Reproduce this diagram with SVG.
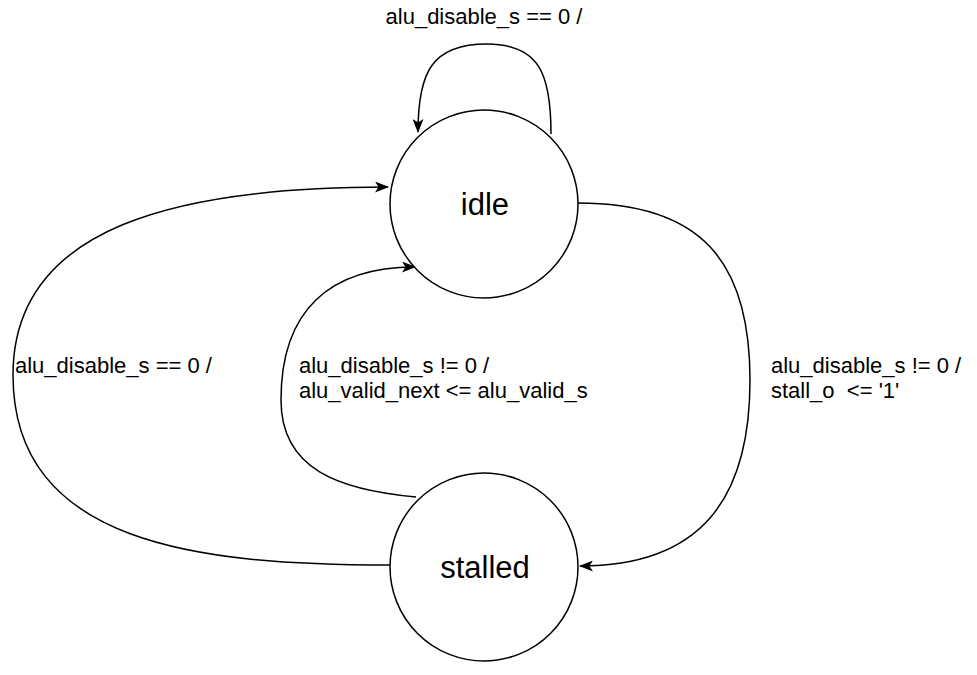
<svg xmlns="http://www.w3.org/2000/svg" width="977" height="675" viewBox="0 0 977 675">
<style>
.st{fill:#fff;stroke:#000;stroke-width:1.5}
.ed{fill:none;stroke:#000;stroke-width:1.5}
.nl{font-family:"Liberation Sans",Arial,sans-serif;font-size:31px;fill:#000;text-anchor:middle}
.el{font-family:"Liberation Sans",Arial,sans-serif;font-size:22px;fill:#000}
</style>
<defs>
<marker id="arr" viewBox="0 0 14 11" refX="13" refY="5.5" markerWidth="14" markerHeight="11" markerUnits="userSpaceOnUse" orient="auto">
<path d="M0,0 L14,5.5 L0,11 L3.5,5.5 z" fill="#000"/>
</marker>
</defs>
<rect width="977" height="675" fill="#fff"/>
<g id="edges">
<path class="ed" d="M551,134 C551,75 540,44 487,44 C432,44 418,72 418,132" marker-end="url(#arr)"/>
<path class="ed" d="M390,565 C200,565 13,545 13,375 C13,225 180,187 388,187" marker-end="url(#arr)"/>
<path class="ed" d="M416,497 C340,490 281,470 281,400 C281,310 330,267 415,267" marker-end="url(#arr)"/>
<path class="ed" d="M578,203 C700,203 750,260 750,380 C750,500 700,566 580,566" marker-end="url(#arr)"/>
</g>
<g id="idle">
<circle class="st" cx="484" cy="204" r="94"/>
<text class="nl" x="485" y="215">idle</text>
</g>
<g id="stalled">
<circle class="st" cx="484" cy="567" r="94"/>
<text class="nl" x="485" y="578">stalled</text>
</g>
<g id="labels">
<text class="el" x="484" y="24" text-anchor="middle">alu_disable_s == 0 /</text>
<text class="el" x="15" y="373">alu_disable_s == 0 /</text>
<text class="el" x="299" y="373">alu_disable_s != 0 /</text>
<text class="el" x="299" y="398">alu_valid_next &lt;= alu_valid_s</text>
<text class="el" x="771" y="373">alu_disable_s != 0 /</text>
<text class="el" x="771" y="398" xml:space="preserve">stall_o  &lt;= '1'</text>
</g>
</svg>
